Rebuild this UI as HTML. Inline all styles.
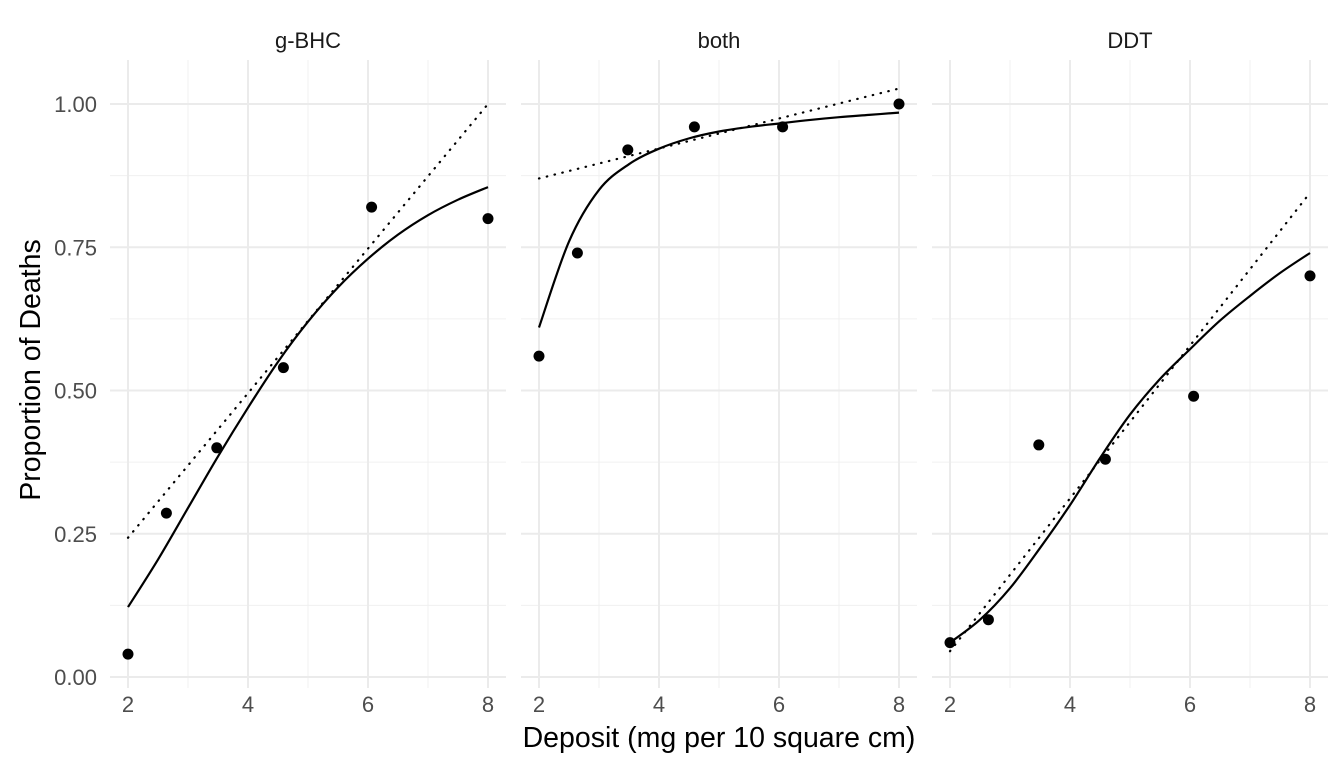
<!DOCTYPE html>
<html><head><meta charset="utf-8"><style>
body{margin:0;background:#fff;font-family:"Liberation Sans",sans-serif}
</style></head><body>
<svg id="c" width="1344" height="768" xmlns="http://www.w3.org/2000/svg"></svg>
<script>
const panels=["g-BHC","both","DDT"];
const deposit=[2.00,2.64,3.48,4.59,6.06,8.00];
const propGBHC=[0.04,0.286,0.40,0.54,0.82,0.80];
const propBoth=[0.56,0.74,0.92,0.96,0.96,1.00];
const propDDT=[0.06,0.10,0.405,0.38,0.49,0.70];
const fitX=[2,2.5,3,3.5,4,4.5,5,5.5,6,6.5,7,7.5,8];
const fitGBHC=[0.122,0.205,0.295,0.385,0.47,0.55,0.62,0.68,0.73,0.772,0.806,0.833,0.855];
const fitBoth=[0.61,0.76,0.85,0.895,0.922,0.94,0.952,0.96,0.966,0.972,0.977,0.981,0.985];
const fitDDT=[0.06,0.10,0.155,0.225,0.30,0.382,0.458,0.52,0.572,0.622,0.665,0.705,0.74];
const linX=[2,8];
const linGBHC=[0.243,1.0];
const linBoth=[0.87,1.027];
const linDDT=[0.045,0.845];
const xTicks=[2,4,6,8];
const yTicks=[0,0.25,0.5,0.75,1.0];
const yTickLabels=["0.00","0.25","0.50","0.75","1.00"];
const pts=[propGBHC,propBoth,propDDT],fits=[fitGBHC,fitBoth,fitDDT],lins=[linGBHC,linBoth,linDDT];

const svg=document.getElementById('c');const NS="http://www.w3.org/2000/svg";
function el(t,a,p){const e=document.createElementNS(NS,t);for(const k in a)e.setAttribute(k,a[k]);(p||svg).appendChild(e);return e;}
const pL=[110,521,932],pW=396,pT=60,pB=688;
const y=v=>677-v*573;
panels.forEach((name,i)=>{
  const x=v=>pL[i]+18+(v-2)*60;
  const g=el('g',{});
  
  
  for(let v=0.125;v<1.1;v+=0.25) el('line',{x1:pL[i],x2:pL[i]+pW,y1:y(v),y2:y(v),stroke:'#f0f0f0','stroke-width':1},g);
  [3,5,7].forEach(v=>el('line',{x1:x(v),x2:x(v),y1:pT,y2:pB,stroke:'#f0f0f0','stroke-width':1},g));
  yTicks.forEach(v=>el('line',{x1:pL[i],x2:pL[i]+pW,y1:y(v),y2:y(v),stroke:'#ebebeb','stroke-width':2},g));
  xTicks.forEach(v=>el('line',{x1:x(v),x2:x(v),y1:pT,y2:pB,stroke:'#ebebeb','stroke-width':2},g));
  const st=el('text',{x:pL[i]+pW/2,y:48,'text-anchor':'middle','font-size':22,fill:'#1a1a1a'},g);st.textContent=name;
  
  const ld=el('line',{x1:x(linX[0]),y1:y(lins[i][0]),x2:x(linX[1]),y2:y(lins[i][1]),stroke:'#000','stroke-width':2.2,'stroke-dasharray':'0.5 7.5','stroke-linecap':'round'},g);
  
  const P=fitX.map((v,k)=>[x(v),y(fits[i][k])]);
  let d='M'+P[0][0]+','+P[0][1];
  for(let k=0;k<P.length-1;k++){const p0=P[Math.max(k-1,0)],p1=P[k],p2=P[k+1],p3=P[Math.min(k+2,P.length-1)];
    d+=` C${p1[0]+(p2[0]-p0[0])/6},${p1[1]+(p2[1]-p0[1])/6} ${p2[0]-(p3[0]-p1[0])/6},${p2[1]-(p3[1]-p1[1])/6} ${p2[0]},${p2[1]}`;}
  const fp=el('path',{d:d,fill:'none',stroke:'#000','stroke-width':2.2},g);
  
  deposit.forEach((v,k)=>{const c=el('circle',{cx:x(v),cy:y(pts[i][k]),r:5.5,fill:'#000'},g);
    });
  xTicks.forEach(v=>{const t=el('text',{x:x(v),y:712,'text-anchor':'middle','font-size':22,fill:'#4d4d4d'},g);t.textContent=v;
    });
});
yTicks.forEach((v,k)=>{const t=el('text',{x:97,y:y(v)+8,'text-anchor':'end','font-size':22,fill:'#4d4d4d'});t.textContent=yTickLabels[k];
  });
const xt=el('text',{x:719,y:747,'text-anchor':'middle','font-size':28.5,fill:'#000'});xt.textContent='Deposit (mg per 10 square cm)';

const yt=el('text',{x:0,y:0,'text-anchor':'middle','font-size':28.5,fill:'#000',transform:'translate(40,370) rotate(-90)'});yt.textContent='Proportion of Deaths';

</script>
</body></html>
